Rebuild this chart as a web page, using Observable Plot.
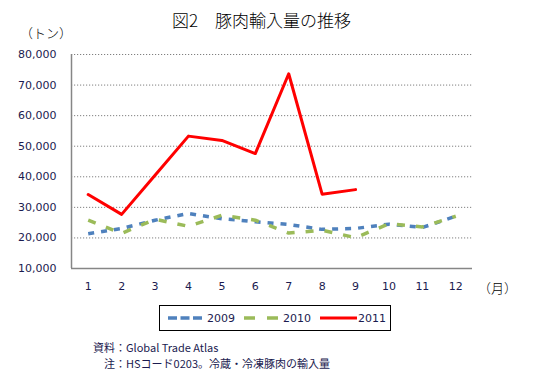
<!DOCTYPE html>
<html><head><meta charset="utf-8">
<script src="https://cdn.jsdelivr.net/npm/d3@7"></script>
<script src="https://cdn.jsdelivr.net/npm/@observablehq/plot@0.6"></script>
<style>
body{margin:0;background:#fff;}
#wrap{position:relative;width:546px;height:382px;overflow:hidden;font-family:"DejaVu Sans",sans-serif;}
#wrap svg{position:absolute;left:0;top:0;}
.t{position:absolute;white-space:nowrap;}
</style></head><body>
<div id="wrap"></div>
<script>
const months = [1,2,3,4,5,6,7,8,9,10,11,12];
const v2009 = [21400,23100,25800,28000,26300,25300,24400,22800,23100,24500,23400,27100];
const v2010 = [25800,21500,26100,23800,27400,25800,21600,22500,20100,24600,23600,27100];
const v2011 = [34200,27700,40500,53300,51900,47600,73700,34300,35800];
const seriesNames = ["2009","2010","2011"];
const yTicks = [10000,20000,30000,40000,50000,60000,70000,80000];
const gridTicks = [20000,30000,40000,50000,60000,70000,80000];
const title = "図2　豚肉輸入量の推移";
const yUnit = "（トン）";
const xUnit = "（月）";
const source = "資料：Global Trade Atlas";
const note = "注：HSコード0203。冷蔵・冷凍豚肉の輸入量";

const colors = {"2009":"#4F81BD","2010":"#9BBB59","2011":"#FF0000"};
const dashes = {"2009":"6,7","2010":"8,11","2011":null};
const widths = {"2009":3.5,"2010":3.5,"2011":3};

const rows = [];
[v2009,v2010,v2011].forEach((arr,i)=>arr.forEach((v,j)=>rows.push({series:seriesNames[i],month:months[j],value:v})));

const lineMarks = seriesNames.map(s=>Plot.line(rows.filter(r=>r.series===s),{
  x:"month",y:"value",stroke:colors[s],strokeWidth:widths[s],
  strokeDasharray:dashes[s]||undefined,strokeLinecap:dashes[s]?"butt":"round",strokeLinejoin:"round"
}));

const chart = Plot.plot({
  width:546,height:382,
  marginLeft:71,marginRight:74,marginTop:54,marginBottom:114,
  style:{fontFamily:"DejaVu Sans, sans-serif",fontSize:"11px",color:"#1b1b50",background:"transparent"},
  x:{domain:[0.5,12.5],ticks:months,tickSize:0,tickPadding:14,tickFormat:d=>String(d),label:null},
  y:{domain:[10000,80000],ticks:yTicks,tickSize:0,tickPadding:15,tickFormat:d3.format(","),label:null},
  marks:[
    Plot.ruleY(gridTicks,{stroke:"#808080",strokeDasharray:"1.2,1.8",strokeWidth:1}),
    Plot.ruleX([0.5],{stroke:"#868686",strokeWidth:1.5}),
    Plot.ruleY([10000],{stroke:"#868686",strokeWidth:1.5}),
    ...lineMarks
  ]
});
const wrap = document.getElementById("wrap");
wrap.appendChild(chart);

function addText(txt,left,top,size,extra){
  const d=document.createElement("div");d.className="t";d.textContent=txt;
  d.style.left=left+"px";d.style.top=top+"px";d.style.fontSize=size+"px";
  Object.assign(d.style,extra||{});wrap.appendChild(d);return d;
}
addText(title,172,8,17,{fontFamily:"'Noto Sans CJK JP',sans-serif",fontWeight:"300",color:"#000",lineHeight:"24px"});
addText(yUnit,20,24,13,{fontFamily:"'Noto Sans CJK JP',sans-serif",fontWeight:"300",color:"#000",lineHeight:"18px"});
addText(xUnit,478,279,13,{fontFamily:"'Noto Sans CJK JP',sans-serif",fontWeight:"300",color:"#000",lineHeight:"18px"});
addText(source,93,339,11,{fontFamily:"'Noto Sans CJK JP',sans-serif",color:"#1b1b50",lineHeight:"16px"});
addText(note,104,355,11,{fontFamily:"'Noto Sans CJK JP',sans-serif",color:"#1b1b50",lineHeight:"16px"});

// legend
const ns="http://www.w3.org/2000/svg";
const lg=document.createElementNS(ns,"svg");
lg.setAttribute("width",232);lg.setAttribute("height",26);
lg.style.left="159px";lg.style.top="305px";
const box=document.createElementNS(ns,"rect");
box.setAttribute("x",0.5);box.setAttribute("y",0.5);box.setAttribute("width",231);box.setAttribute("height",25);
box.setAttribute("fill","#fff");box.setAttribute("stroke","#000");box.setAttribute("stroke-width",1);
lg.appendChild(box);
const lx=[9,85,161];
seriesNames.forEach((s,i)=>{
  const l=document.createElementNS(ns,"line");
  l.setAttribute("x1",lx[i]);l.setAttribute("x2",lx[i]+(s==="2011"?37:34));
  l.setAttribute("y1",13);l.setAttribute("y2",13);
  l.setAttribute("stroke",colors[s]);l.setAttribute("stroke-width",widths[s]);
  if(dashes[s]) l.setAttribute("stroke-dasharray",s==="2009"?"9,3.5":"11,12");
  lg.appendChild(l);
  const t=document.createElementNS(ns,"text");
  t.setAttribute("x",lx[i]+(s==="2011"?38:39));t.setAttribute("y",17);
  t.setAttribute("font-size",11);t.setAttribute("font-family","DejaVu Sans, sans-serif");t.setAttribute("fill","#1b1b50");
  t.textContent=s;lg.appendChild(t);
});
wrap.appendChild(lg);
</script>
</body></html>
